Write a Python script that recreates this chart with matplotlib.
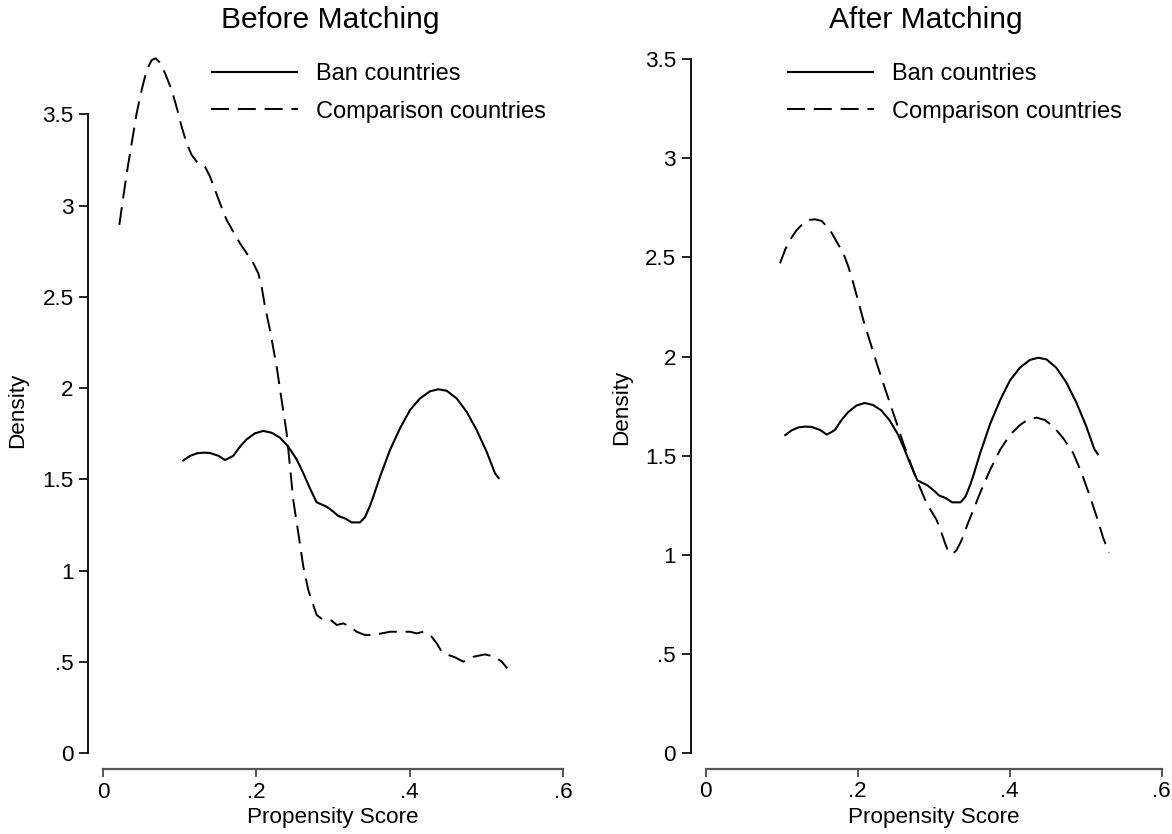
import matplotlib
matplotlib.use("Agg")
import matplotlib.pyplot as plt

plt.rcParams['font.family'] = ['Liberation Sans', 'DejaVu Sans']
plt.rcParams['lines.scale_dashes'] = False

# ---- data ----
ban_x = [0.1035, 0.1135, 0.1222, 0.1309, 0.1396, 0.1504, 0.1591, 0.1648, 0.170, 0.1787,
         0.1874, 0.1983, 0.2091, 0.220, 0.2309, 0.2417, 0.2526, 0.2613, 0.270, 0.2787,
         0.2917, 0.3004, 0.3069, 0.3156, 0.3243, 0.3352, 0.3417, 0.3482, 0.3526, 0.3613,
         0.3743, 0.3874, 0.4004, 0.4135, 0.4265, 0.4374, 0.4483, 0.4613, 0.4743, 0.4874,
         0.5004, 0.5113, 0.5169]
ban_y = [1.601, 1.629, 1.643, 1.647, 1.645, 1.630, 1.607, 1.618, 1.630, 1.680,
         1.720, 1.753, 1.766, 1.756, 1.729, 1.680, 1.610, 1.534, 1.451, 1.375,
         1.351, 1.324, 1.300, 1.287, 1.265, 1.265, 1.293, 1.355, 1.406, 1.515,
         1.661, 1.780, 1.880, 1.944, 1.983, 1.994, 1.986, 1.944, 1.871, 1.771,
         1.652, 1.534, 1.503]

cmp_before_x = [0.0213, 0.0265, 0.0317, 0.0374, 0.0439, 0.0504, 0.0570, 0.0635, 0.0687, 0.0743,
                0.0809, 0.0896, 0.0970, 0.1026, 0.1091, 0.1157, 0.1222, 0.1330, 0.1396, 0.1461,
                0.1526, 0.1613, 0.170, 0.1787, 0.1874, 0.1961, 0.2026, 0.2069, 0.2113, 0.2178,
                0.2265, 0.2330, 0.2396, 0.2439, 0.2482, 0.2548, 0.2613, 0.2678, 0.2735, 0.2787,
                0.2874, 0.2983, 0.3048, 0.3135, 0.3222, 0.3309, 0.3417, 0.3526, 0.3635, 0.3743,
                0.3896, 0.4004, 0.4091, 0.4178, 0.4287, 0.4352, 0.4417, 0.4504, 0.4591, 0.470,
                0.4830, 0.4982, 0.5113, 0.520, 0.5274]
cmp_before_y = [2.894, 3.049, 3.195, 3.341, 3.506, 3.633, 3.743, 3.797, 3.807, 3.783,
                3.725, 3.633, 3.524, 3.432, 3.341, 3.277, 3.241, 3.213, 3.159, 3.086,
                3.013, 2.921, 2.857, 2.793, 2.739, 2.684, 2.629, 2.556, 2.447, 2.319,
                2.118, 1.935, 1.753, 1.570, 1.387, 1.205, 1.022, 0.895, 0.822, 0.758,
                0.730, 0.727, 0.703, 0.712, 0.694, 0.666, 0.648, 0.648, 0.657, 0.666,
                0.666, 0.666, 0.657, 0.666, 0.639, 0.603, 0.557, 0.539, 0.526, 0.502,
                0.529, 0.542, 0.529, 0.502, 0.466]

cmp_after_x = [0.0978, 0.1043, 0.1109, 0.1197, 0.1285, 0.1364, 0.1438, 0.1526, 0.1636, 0.1723,
               0.1811, 0.1877, 0.1943, 0.2008, 0.2074, 0.2162, 0.2250, 0.2337, 0.2425, 0.2513,
               0.2600, 0.2688, 0.2776, 0.2842, 0.2907, 0.2973, 0.3039, 0.3105, 0.3149, 0.3193,
               0.3250, 0.3302, 0.3368, 0.3434, 0.3521, 0.3609, 0.3741, 0.3872, 0.4004, 0.4136,
               0.4245, 0.4355, 0.4464, 0.4574, 0.4706, 0.4837, 0.4947, 0.5057, 0.5144, 0.5232,
               0.5307]
cmp_after_y = [2.470, 2.537, 2.588, 2.638, 2.672, 2.689, 2.692, 2.684, 2.638, 2.579,
               2.521, 2.453, 2.369, 2.277, 2.184, 2.075, 1.966, 1.865, 1.764, 1.664,
               1.563, 1.470, 1.378, 1.319, 1.260, 1.218, 1.176, 1.109, 1.059, 1.017,
               1.005, 1.025, 1.075, 1.143, 1.227, 1.311, 1.428, 1.529, 1.605, 1.655,
               1.684, 1.692, 1.680, 1.647, 1.588, 1.512, 1.412, 1.294, 1.193, 1.084,
               1.012]

x_ticks = [0, 0.2, 0.4, 0.6]
x_ticklabels = ['0', '.2', '.4', '.6']
y_ticks = [0, 0.5, 1, 1.5, 2, 2.5, 3, 3.5]
y_ticklabels = ['0', '.5', '1', '1.5', '2', '2.5', '3', '3.5']
titles = ['Before Matching', 'After Matching']
legend_labels = ['Ban countries', 'Comparison countries']

W, H = 1172, 834
fig = plt.figure(figsize=(W / 100, H / 100), dpi=100)

def fx(px):
    return px / W

def fy(py):
    return 1 - py / H

FS = 16.2
DASH = (13.0, 6.3)

panels = [
    dict(rect=[0.06826, 0.0748, 0.4121, 0.8757], ylim=(-0.1, 3.9), lspine=-0.0192, bspine=-0.086,
         cx=cmp_before_x, cy=cmp_before_y, title_x=330, ylab_x=18, ylab_y=410, xlab_x=333,
         leg_x=211),
    dict(rect=[0.5827, 0.0730, 0.4085, 0.8800], ylim=(-0.1, 3.6), lspine=-0.0197, bspine=-0.079,
         cx=cmp_after_x, cy=cmp_after_y, title_x=926, ylab_x=622, ylab_y=407, xlab_x=934,
         leg_x=787),
]

for i, p in enumerate(panels):
    ax = fig.add_axes(p['rect'])
    ax.set_xlim(-0.03, 0.6)
    ax.set_ylim(*p['ylim'])
    l1, = ax.plot(ban_x, ban_y, color='black', lw=1.5, solid_capstyle='butt',
                  solid_joinstyle='round')
    l2, = ax.plot(p['cx'], p['cy'], color='black', lw=1.4, linestyle=(0, DASH),
                  dash_capstyle='butt', dash_joinstyle='round')
    for s in ['top', 'right']:
        ax.spines[s].set_visible(False)
    ax.spines['left'].set_position(('data', p['lspine']))
    ax.spines['bottom'].set_position(('data', p['bspine']))
    ax.spines['left'].set_bounds(0, 3.5)
    ax.spines['bottom'].set_bounds(0, 0.6)
    ax.spines['left'].set_color('#111111')
    ax.spines['bottom'].set_color('#555555')
    ax.spines['left'].set_linewidth(1.4)
    ax.spines['bottom'].set_linewidth(1.6)
    ax.set_xticks(x_ticks)
    ax.set_xticklabels(x_ticklabels)
    ax.set_yticks(y_ticks)
    ax.set_yticklabels(y_ticklabels)
    ax.tick_params(axis='y', length=6.5, width=1.3, pad=4, labelsize=FS, color='#111111')
    ax.tick_params(axis='x', length=6, width=1.4, pad=3, labelsize=FS, color='#555555')
    fig.text(fx(p['title_x']), fy(20), titles[i], ha='center', va='center', fontsize=21.6)
    fig.text(fx(p['ylab_x']), fy(p['ylab_y']), 'Density', rotation=90, ha='center', va='center',
             fontsize=FS)
    fig.text(fx(p['xlab_x']), fy(817), 'Propensity Score', ha='center', va='center', fontsize=FS)
    ax.legend([l1, l2], legend_labels, loc='upper left',
              bbox_to_anchor=(fx(p['leg_x']), fy(63)), bbox_transform=fig.transFigure,
              frameon=False, fontsize=17, handlelength=3.7, handletextpad=0.76,
              labelspacing=0.66, borderpad=0, borderaxespad=0)

fig.savefig('out.png', dpi=100)
